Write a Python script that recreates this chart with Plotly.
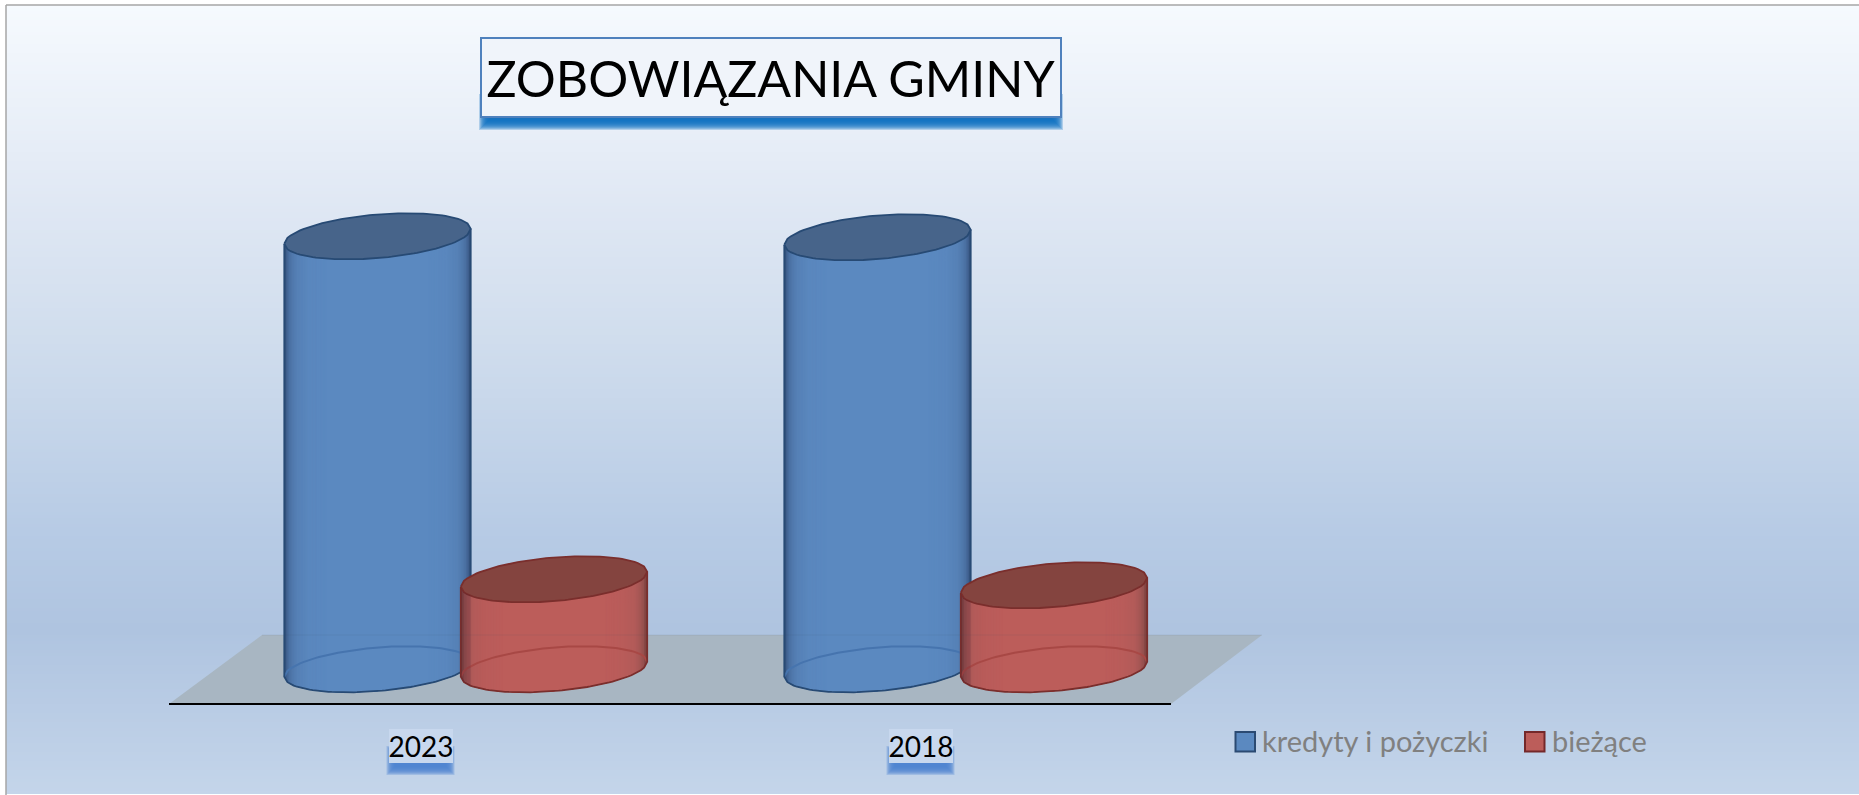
import numpy as np
import plotly.graph_objects as go

# ---- data (arbitrary units: no value axis is shown) ----
categories = ["2023", "2018"]
kredyty = [433, 432]
biezace = [90, 84]
series_names = ["kredyty i pożyczki", "bieżące"]
title_text = "ZOBOWIĄZANIA GMINY"

W, H = 1859, 795
X0 = 465.75      # pixel of the first category centre
STEP = 500.0     # pixels per category
Y0 = 669.3       # pixel of the value 0 (centre of cylinder bases)
def fx(px): return (px - X0) / STEP
def fy(py): return Y0 - py

OFFSET = 88.25 / STEP
A = 93.2 / STEP   # half width
B = 21.8          # ellipse half height
K = 7.5           # ellipse tilt

fig = go.Figure()

# ---- background gradient ----
stops_px = [5, 200, 340, 530, 630, 795]
stops_col = ["#f6fafe", "#e0e8f4", "#d0dded", "#b7cbe5", "#afc4e0", "#c4d5ea"]
rows = np.arange(5, 796, 3)
cs = [[(p - 5) / 790, c] for p, c in zip(stops_px, stops_col)]
fig.add_trace(go.Heatmap(
    x=[fx(6), fx(W)], y=[fy(p) for p in rows],
    z=[[fy(p)] for p in (rows[:-1] + 1.5)],
    zmin=fy(795), zmax=fy(5),
    colorscale=[[1 - s, c] for s, c in reversed(cs)],
    showscale=False, hoverinfo="skip"))

def poly(xs, ys, fill, line=None, lw=0, opacity=1.0):
    fig.add_trace(go.Scatter(
        x=xs, y=ys, mode="lines", fill="toself", fillcolor=fill,
        line=dict(color=line or "rgba(0,0,0,0)", width=lw),
        opacity=opacity, hoverinfo="skip", showlegend=False))

def curve(xs, ys, color, lw):
    fig.add_trace(go.Scatter(
        x=xs, y=ys, mode="lines", line=dict(color=color, width=lw),
        hoverinfo="skip", showlegend=False))

def arc(cx, v, sign, f=1.0, n=60):
    u = np.linspace(-f, f, n)
    return cx + A * u, v + K * u + sign * B * np.sqrt(np.clip(1 - u * u, 0, 1))

def hex2rgb(h):
    return np.array([int(h[i:i + 2], 16) for i in (1, 3, 5)], float)

def ramp(anchors, n=28):
    fs = np.linspace(anchors[0][0], anchors[-1][0], n)
    af = [a[0] for a in anchors][::-1]
    ac = np.array([hex2rgb(a[1]) for a in anchors])[::-1]
    out = []
    for f in fs:
        c = [np.interp(f, af, ac[:, j]) for j in range(3)]
        out.append((f, "rgb(%d,%d,%d)" % tuple(c)))
    return out

# ---- floor ----
floor_x = [fx(169), fx(1171), fx(1262), fx(262), fx(169)]
floor_y = [fy(704), fy(704), fy(635), fy(635), fy(704)]
poly(floor_x, floor_y, "#a8b6c2")

STY = {
    0: dict(grad=ramp([(1.0, "#34527c"), (0.97, "#46699a"), (0.93, "#4f77aa"),
                       (0.87, "#5681b6"), (0.75, "#5a87be"), (0.55, "#5b89c0")]),
            top="#47648a", edge="#274a74", back="#4674ae"),
    1: dict(grad=ramp([(1.0, "#78403e"), (0.97, "#94504e"), (0.93, "#a65755"),
                       (0.87, "#b35b59"), (0.75, "#b95c5a"), (0.55, "#bc5d5a")]),
            top="#84443f", edge="#7a2e2c", back="#a84845"),
}

def cylinder(cx, v, s):
    st = STY[s]
    for f, col in st["grad"]:
        bx, by = arc(cx, 0, -1, f)
        tx, ty = arc(cx, v, -1, f)
        poly(np.r_[bx, tx[::-1], bx[0]], np.r_[by, ty[::-1], by[0]], col)
    # back of the base, seen through the body
    bx, by = arc(cx, 0, 1)
    curve(bx, by, st["back"], 2)
    # silhouette
    bx, by = arc(cx, 0, -1)
    tx, ty = arc(cx, v, -1)
    curve(np.r_[tx[0], bx, tx[-1]], np.r_[ty[0], by, ty[-1]], st["edge"], 1.8)
    # top ellipse
    ux, uy = arc(cx, v, 1)
    poly(np.r_[tx, ux[::-1], tx[0]], np.r_[ty, uy[::-1], ty[0]], st["top"], st["edge"], 1.8)

for i, (a, b) in enumerate(zip(kredyty, biezace)):
    cylinder(i - OFFSET, a, 0)
    cylinder(i + OFFSET, b, 1)
    # strip where the red cylinder overlaps the blue one
    f = ((i - OFFSET + A) - (i + OFFSET)) / A
    u = np.linspace(-1, f, 8)
    xs = i + OFFSET + A * u
    low = K * u - B * np.sqrt(1 - u * u)
    up = b + K * u - B * np.sqrt(1 - u * u)
    poly(np.r_[xs, xs[::-1], xs[0]], np.r_[low, up[::-1], low[0]], "#4a2030", opacity=0.2)

# faint floor edge seen through the cylinders
fig.add_trace(go.Scatter(x=[floor_x[3], floor_x[2]], y=[floor_y[3], floor_y[2]], mode="lines",
                         line=dict(color="rgba(70,90,110,0.10)", width=1),
                         hoverinfo="skip", showlegend=False))

shapes = []
def px_rect(x0, y0, x1, y1, **kw):
    shapes.append(dict(type="rect", xref="x", yref="y", x0=fx(x0), x1=fx(x1), y0=fy(y0), y1=fy(y1),
                       layer="above", **kw))

def shadow(x0, y0, x1, y1, color, spread=5, op=0.27):
    # soft edge: stacked translucent rectangles, each one a pixel tighter
    for d in range(spread, -spread - 1, -1):
        px_rect(x0 - d, y0 - d, x1 + d, y1 + d, fillcolor=color, opacity=op,
                line=dict(width=0))

# frame
shapes.append(dict(type="line", xref="x", yref="y", x0=fx(6), x1=fx(6), y0=fy(5), y1=fy(795),
                   line=dict(color="#a6a6a6", width=1.5), layer="above"))
shapes.append(dict(type="line", xref="x", yref="y", x0=fx(6), x1=fx(W), y0=fy(5), y1=fy(5),
                   line=dict(color="#a6a6a6", width=1.5), layer="above"))
# category axis
shapes.append(dict(type="line", xref="x", yref="y", x0=fx(169), x1=fx(1171), y0=fy(704), y1=fy(704),
                   line=dict(color="#000000", width=2), layer="above"))

# title shadow
shadow(485, 100, 1057, 124, "#0a6fc2", 6, 0.26)
shadow(482, 40, 1060, 118, "#5b7fb0", 2, 0.05)

annotations = [dict(
    text=title_text, xref="x", yref="y", x=fx(771), y=fy(77.5), showarrow=False,
    font=dict(family="Lato", size=50, color="#000000"),
    bgcolor="#f0f4fa", bordercolor="#4f81bd", borderwidth=2,
    width=576, height=75, align="center", valign="middle")]

# category labels
for i, c in enumerate(categories):
    cx = i * STEP + 420.5
    shadow(cx - 30, 750, cx + 30, 771, "#4a82d0", 4, 0.28)
    annotations.append(dict(
        text=c, xref="x", yref="y", x=fx(cx), y=fy(745.5), showarrow=False,
        font=dict(family="Lato", size=28, color="#000000"),
        bgcolor="#c8d8ee", width=64, height=34, borderpad=0, borderwidth=0))

# legend
LEG = [(1235.5, 1259.5, "#5b89c0", "#2b4a72"), (1525, 1550, "#bc5d5a", "#74282a")]
for name, (sx, tx, col, edge) in zip(series_names, LEG):
    px_rect(sx, 732, sx + 19.5, 751.5, fillcolor=col, line=dict(color=edge, width=2))
    annotations.append(dict(
        text=name, xref="x", yref="y", x=fx(tx), y=fy(740), xanchor="left", showarrow=False,
        font=dict(family="Lato", size=29, color="#808080")))

fig.update_layout(
    width=W, height=H, margin=dict(l=0, r=0, t=0, b=0), showlegend=False,
    paper_bgcolor="#ffffff", plot_bgcolor="rgba(0,0,0,0)",
    xaxis=dict(range=[fx(0), fx(W)], visible=False, fixedrange=True),
    yaxis=dict(range=[fy(H), fy(0)], visible=False, fixedrange=True),
    shapes=shapes, annotations=annotations)

fig.write_html("out.html", post_script="document.body.style.margin='0';document.documentElement.style.overflow='hidden';",
               config=dict(displayModeBar=False))
